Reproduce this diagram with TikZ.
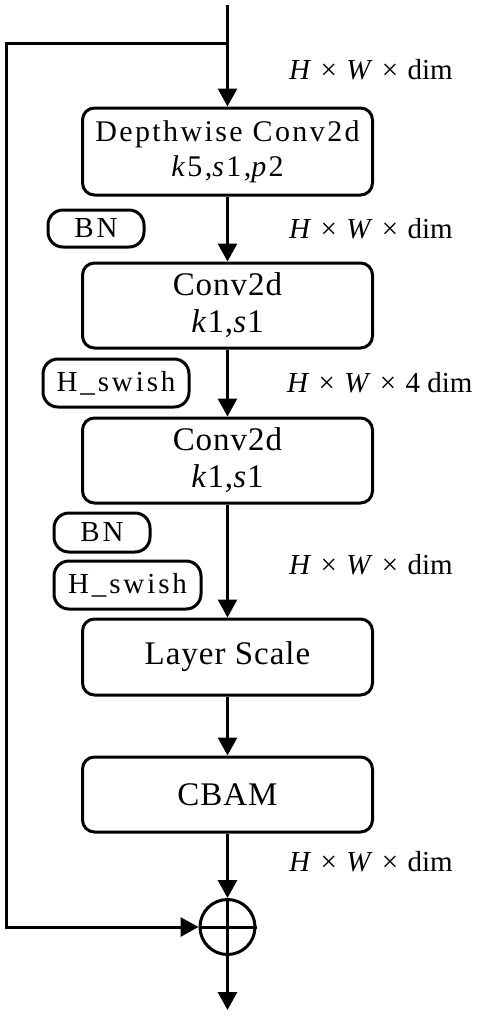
\documentclass[tikz,border=0pt]{standalone}
\usepackage{fontspec}
\setmainfont{Liberation Serif}
\newfontfamily\boxfont[LetterSpace=3]{Liberation Serif}
\newfontfamily\tagfont[LetterSpace=10]{Liberation Serif}
\newfontfamily\dwfont[LetterSpace=8]{Liberation Serif}
\usetikzlibrary{arrows.meta}

\newcommand{\hwd}[1]{\textit{H}\hspace{0.32em}×\hspace{0.32em}\textit{W}\hspace{0.32em}×\hspace{0.32em}#1dim}

\tikzset{
  block/.style={draw, line width=3pt, rounded corners=12pt, minimum width=290pt, inner sep=0pt, align=center, font=\boxfont\fontsize{33}{37}\selectfont},
  tag/.style={draw, line width=3pt, rounded corners=15pt, inner sep=0pt, font=\tagfont\fontsize{29}{30}\selectfont},
  dims/.style={anchor=west, inner sep=0pt, font=\fontsize{29}{30}\selectfont},
  flow/.style={line width=3pt, -{Triangle[length=18pt,width=19pt]}},
}

\begin{document}
\begin{tikzpicture}[x=1pt, y=-1pt]
        \useasboundingbox (0,0) rectangle (484,1017);

        % main path
        \node[block, minimum height=87pt, font=\dwfont\fontsize{30}{35}\selectfont] (dw) at (227.5,151.5) {Depthwise Conv2d\\\textit{k}5,\textit{s}1,\textit{p}2};
        \node[block, minimum height=85pt] (pw1) at (227.5,305.5) {Conv2d\\\textit{k}1,\textit{s}1};
        \node[block, minimum height=85pt] (pw2) at (227.5,460.5) {Conv2d\\\textit{k}1,\textit{s}1};
        \node[block, minimum height=76pt] (ls) at (227.5,657) {Layer Scale};
        \node[block, minimum height=75pt] (cbam) at (227.5,794.5) {CBAM};
        \node[circle, draw, line width=3pt, minimum size=55pt, inner sep=0pt] (add) at (227.5,927) {};

        % side tags
        \node[tag, minimum width=96pt, minimum height=37pt] (bn1) at (96,228.5) {BN};
        \node[tag, minimum width=146pt, minimum height=48pt] (hs1) at (116,383) {H\_swish};
        \node[tag, minimum width=96pt, minimum height=39pt] (bn2) at (102,532.5) {BN};
        \node[tag, minimum width=147pt, minimum height=48pt] (hs2) at (127.5,585) {H\_swish};

        % tensor sizes
        \node[dims] (d1) at (289,70) {\hwd{}};
        \node[dims] (d2) at (289,229) {\hwd{}};
        \node[dims] (d3) at (287,383) {\hwd{4 }};
        \node[dims] (d4) at (289,565) {\hwd{}};
        \node[dims] (d5) at (289,862) {\hwd{}};

        \coordinate (in) at (227.5,5);
        \coordinate (split) at (227.5,43);
        \coordinate (corner) at (6,43);
        \coordinate (out) at (227.5,1010);

        \draw[flow] (in) -- (dw);
        \draw[flow] (dw) -- (pw1);
        \draw[flow] (pw1) -- (pw2);
        \draw[flow] (pw2) -- (ls);
        \draw[flow] (ls) -- (cbam);
        \draw[flow] (cbam) -- (add);
        \draw[flow] (add) -- (out);
        \draw[flow] (split) -- (corner) |- (add.west);
        \draw[line width=3pt] (add.north) -- (add.south) (add.west) -- (add.east);
    \end{tikzpicture}
\end{document}
